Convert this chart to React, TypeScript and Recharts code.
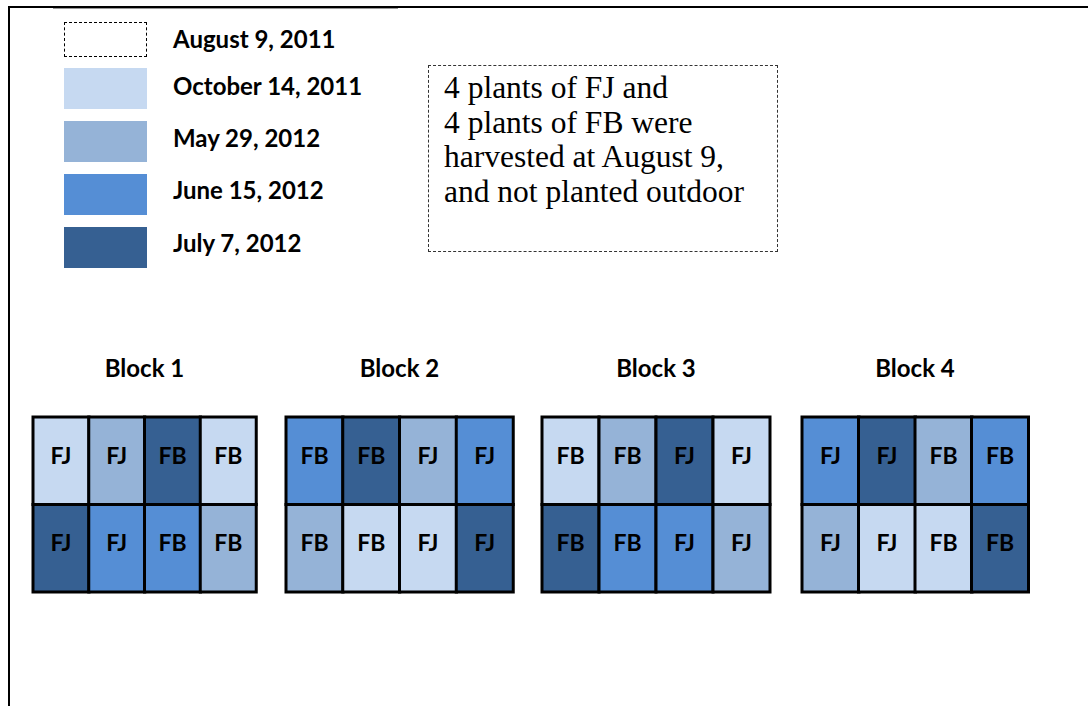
import React from "react";
import { BarChart, Bar, XAxis, YAxis, Cell, LabelList } from "recharts";

const dates = ["August 9, 2011", "October 14, 2011", "May 29, 2012", "June 15, 2012", "July 7, 2012"];
const dateFills = ["#ffffff", "#c6d9f1", "#95b3d7", "#558ed5", "#366092"];
const blockNames = ["Block 1", "Block 2", "Block 3", "Block 4"];
const columns = ["c1", "c2", "c3", "c4"];

const upperPlants = [
  ["FJ", "FJ", "FB", "FB"],
  ["FB", "FB", "FJ", "FJ"],
  ["FB", "FB", "FJ", "FJ"],
  ["FJ", "FJ", "FB", "FB"],
];
const upperDates = [
  [1, 2, 4, 1],
  [3, 4, 2, 3],
  [1, 2, 4, 1],
  [3, 4, 2, 3],
];
const lowerPlants = [
  ["FJ", "FJ", "FB", "FB"],
  ["FB", "FB", "FJ", "FJ"],
  ["FB", "FB", "FJ", "FJ"],
  ["FJ", "FJ", "FB", "FB"],
];
const lowerDates = [
  [4, 3, 3, 2],
  [2, 1, 1, 4],
  [4, 3, 3, 2],
  [2, 1, 1, 4],
];

const noteLines = [
  "4 plants of FJ and",
  "4 plants of FB were",
  "harvested at August 9,",
  "and not planted outdoor",
];

// layout
const blockLeft = [33, 286, 542, 802];
const blockWidth = [223, 227, 228, 226];
const gridTop = 417;
const gridHeight = 175;
const legendTop = [22, 68, 121, 174, 227];
const legendTextMid = [39, 86, 138, 190, 243];
const sans = "Lato, 'Open Sans', sans-serif";

const cellLabel = (props: any) => {
  const { x, y, width, height, value } = props;
  return (
    <text
      x={x + width / 2}
      y={y + height / 2 - 6}
      textAnchor="middle"
      dominantBaseline="central"
      style={{ fontFamily: sans, fontWeight: 700, fontSize: 23, fill: "#000" }}
    >
      {value}
    </text>
  );
};

function Block({ b }: { b: number }) {
  const data = columns.map((c, i) => ({
    col: c,
    lower: 1,
    upper: 1,
    lowerPlant: lowerPlants[b][i],
    upperPlant: upperPlants[b][i],
    lowerDate: lowerDates[b][i],
    upperDate: upperDates[b][i],
  }));
  const m = 2;
  return (
    <div style={{ position: "absolute", left: blockLeft[b] - m, top: gridTop - m }}>
      <BarChart
        width={blockWidth[b] + 2 * m}
        height={gridHeight + 2 * m}
        data={data}
        margin={{ top: m, right: m, bottom: m, left: m }}
        barCategoryGap={0}
        barGap={0}
      >
        <XAxis dataKey="col" hide />
        <YAxis hide domain={[0, 2]} />
        <Bar dataKey="lower" stackId="a" isAnimationActive={false}>
          {data.map((d) => (
            <Cell key={d.col} fill={dateFills[d.lowerDate]} stroke="#000" strokeWidth={3} />
          ))}
          <LabelList dataKey="lowerPlant" content={cellLabel} />
        </Bar>
        <Bar dataKey="upper" stackId="a" isAnimationActive={false}>
          {data.map((d) => (
            <Cell key={d.col} fill={dateFills[d.upperDate]} stroke="#000" strokeWidth={3} />
          ))}
          <LabelList dataKey="upperPlant" content={cellLabel} />
        </Bar>
      </BarChart>
    </div>
  );
}

export default function App() {
  return (
    <div
      style={{
        position: "absolute",
        left: 0,
        top: 0,
        width: 1088,
        height: 706,
        background: "#fff",
        overflow: "hidden",
      }}
    >
      {/* frame lines */}
      <div style={{ position: "absolute", left: 8, top: 6, width: 1080, height: 2, background: "#000" }} />
      <div style={{ position: "absolute", left: 53, top: 8, width: 345, height: 1, background: "#999" }} />
      <div style={{ position: "absolute", left: 8, top: 6, width: 2, height: 700, background: "#000" }} />

      {/* legend */}
      {dates.map((d, i) => (
        <React.Fragment key={d}>
          <div
            style={{
              position: "absolute",
              left: 64,
              top: legendTop[i],
              width: i === 0 ? 81 : 83,
              height: i === 0 ? 33 : 41,
              background: dateFills[i],
              border: i === 0 ? "1px dashed #000" : "none",
            }}
          />
          <div
            style={{
              position: "absolute",
              left: 173,
              top: legendTextMid[i] - 15,
              height: 30,
              lineHeight: "30px",
              fontFamily: sans,
              fontWeight: 700,
              fontSize: 24,
              color: "#000",
              whiteSpace: "nowrap",
            }}
          >
            {d}
          </div>
        </React.Fragment>
      ))}

      {/* note box */}
      <div
        style={{
          position: "absolute",
          left: 428,
          top: 65,
          width: 348,
          height: 185,
          border: "1px dashed #333",
        }}
      >
        <div
          style={{
            position: "absolute",
            left: 15,
            top: 5,
            fontFamily: "'Liberation Serif', serif",
            fontSize: 31.5,
            lineHeight: "34.5px",
            color: "#000",
            whiteSpace: "nowrap",
          }}
        >
          {noteLines.map((l) => (
            <div key={l}>{l}</div>
          ))}
        </div>
      </div>

      {/* block titles and grids */}
      {blockNames.map((name, b) => (
        <React.Fragment key={name}>
          <div
            style={{
              position: "absolute",
              left: blockLeft[b],
              width: blockWidth[b],
              top: 353,
              height: 30,
              lineHeight: "30px",
              textAlign: "center",
              fontFamily: sans,
              fontWeight: 700,
              fontSize: 24,
              color: "#000",
            }}
          >
            {name}
          </div>
          <Block b={b} />
        </React.Fragment>
      ))}
    </div>
  );
}
